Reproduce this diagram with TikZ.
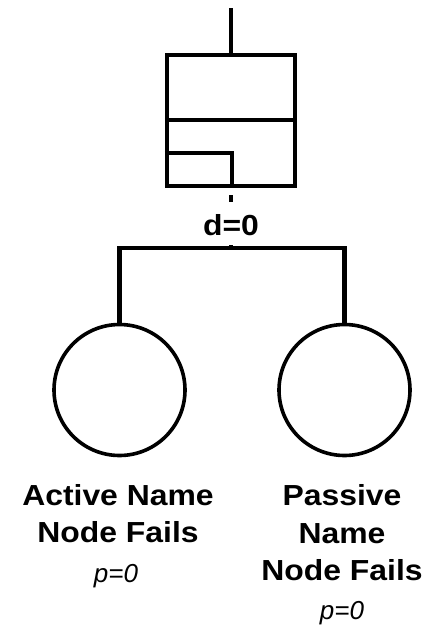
\documentclass[tikz,border=0pt]{standalone}
\usepackage{fontspec}
\setmainfont{Liberation Sans}
\newfontfamily\widesans[FakeStretch=1.1]{Liberation Sans}
\begin{document}
\begin{tikzpicture}[x=1pt,y=-1pt,
  ln/.style={line width=4.2pt},
  gatebox/.style={draw,line width=4.2pt,rectangle,minimum width=128pt,minimum height=131pt,inner sep=0pt},
  event/.style={draw,line width=3.6pt,circle,minimum size=131pt,inner sep=0pt},
  lab/.style={align=center,font=\widesans\fontsize{29}{37.5}\selectfont\bfseries,inner sep=0pt},
  prob/.style={font=\fontsize{26}{26}\selectfont\itshape,inner sep=0pt}]
\useasboundingbox (0,0) rectangle (429,627);
\node[gatebox] (gate) at (231,120.5) {};
\coordinate (top) at (231,8);
\draw[ln] (top) -- (gate.north);
\draw[ln] (gate.west |- 120,120) -- (gate.east |- 120,120);
\draw[ln] (gate.west |- 153,153) -| (232,188);
\coordinate (gs) at (231,195);
\coordinate (ge) at (231,202);
\draw[ln] (gs) -- (ge);
\node[font=\widesans\fontsize{29}{29}\selectfont\bfseries,inner sep=0pt] (d) at (231,225) {d=0};
\coordinate (bar) at (231,248);
\node[event] (a) at (119.5,390) {};
\node[event] (b) at (344.5,390) {};
\draw[ln] (a.north) -- (a.north |- bar) -- (b.north |- bar) -- (b.north);
\draw[ln] (bar) -- ++(0,-3);
\node[lab] (ta) at (118,513.5) {Active Name\\Node Fails};
\node[prob] (pa) at (116,576) {p=0};
\node[lab] (tb) at (342,533) {Passive\\Name\\Node Fails};
\node[prob] (pb) at (342,613) {p=0};
\end{tikzpicture}
\end{document}
